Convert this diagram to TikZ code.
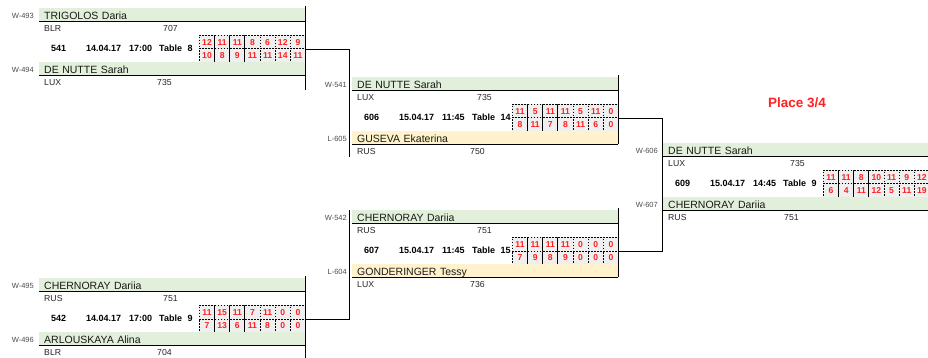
\documentclass[tikz,border=0pt]{standalone}
\usepackage{fontspec}
\setmainfont{Liberation Sans}
\usepackage{xcolor}
\usetikzlibrary{calc}
\definecolor{bargreen}{HTML}{E2EFDA}
\definecolor{baryellow}{HTML}{FFF2CC}
\definecolor{scorered}{HTML}{FF2020}
\definecolor{cellgrey}{HTML}{EFEFEF}
\tikzset{
	rule/.style={line width=0.8pt},
	bar/.style={minimum width=266pt, minimum height=13pt, text width=256pt, align=left,
			inner xsep=5pt, inner ysep=0.5pt, text height=11pt, text depth=1pt,
			font=\fontsize{10.5}{12}\selectfont, text=black!90},
	tag/.style={inner sep=0pt, font=\fontsize{7.5}{8}\selectfont, text=black!70},
	info/.style={inner sep=0pt, font=\fontsize{8.7}{9}\selectfont, text=black!85},
	mbold/.style={inner sep=0pt, font=\fontsize{9}{9}\selectfont\bfseries},
	sbox/.style={draw, line width=1pt, dash pattern=on 1.8pt off 1.2pt, fill=cellgrey,
			minimum width=106pt, minimum height=27pt, inner sep=0pt},
	cell/.style={draw, line width=0.9pt, dash pattern=on 1.8pt off 1.2pt, fill=cellgrey,
			minimum width=15.15pt, minimum height=13.5pt, inner sep=0pt,
			font=\fontsize{8.6}{8}\selectfont\bfseries, text=scorered},
	place/.style={inner sep=0pt, font=\fontsize{13.5}{14}\selectfont\bfseries, text=scorered}
}
% one player line: name, top y, bar colour, entry, player, country, rating, rating x
\newcommand{\player}[8]{%
	\node[bar, fill=#3, anchor=north west] (#1) at (0,#2) {#5};
	\draw[rule] (#1.south west) -- (#1.south east);
	\node[tag, anchor=base east] (#1e) at (-5,{#2+10.3}) {#4};
	\node[info, anchor=base west] (#1c) at (5,{#2+23.5}) {#6};
	\node[info, anchor=base west] (#1r) at (#8,{#2+23.5}) {#7};
}
% match number, date, time and table
\newcommand{\matchrow}[5]{%
	\node[mbold, anchor=base west] (#1n) at (12,43.5) {#2};
	\node[mbold, anchor=base west] (#1d) at (47,43.5) {#3};
	\node[mbold, anchor=base west] (#1h) at (90,43.5) {#4};
	\node[mbold, anchor=base west] (#1x) at (120,43.5) {Table};
	\node[mbold, anchor=base west] (#1y) at (148.5,43.5) {#5};
}
% set scores
\newcommand{\scores}[3]{%
	\node[sbox, anchor=north west] (#1) at (160,27) {};
	\foreach \s [count=\i] in {#2}
		\node[cell, anchor=north west] (#1t\i) at ({160+15.15*(\i-1)},27) {\s};
	\foreach \s [count=\i] in {#3}
		\node[cell, anchor=north west] (#1b\i) at ({160+15.15*(\i-1)},40.5) {\s};
}

\begin{document}
\begin{tikzpicture}[x=1pt, y=-1pt]
		\useasboundingbox (0,0) rectangle (928,358);

		% Match 541
		\begin{scope}[shift={(39,8)}]
			\player{p493}{0}{bargreen}{W-493}{TRIGOLOS Daria}{BLR}{707}{124}
			\matchrow{r541}{541}{14.04.17}{17:00}{8}
			\scores{s541}{12,11,11,8,6,12,9}{10,8,9,11,11,14,11}
			\player{p494}{54}{bargreen}{W-494}{DE NUTTE Sarah}{LUX}{735}{118}
			\draw[rule] (266,-2) -- (266,82);
		\end{scope}

		% Match 542
		\begin{scope}[shift={(39,278)}]
			\player{p495}{0}{bargreen}{W-495}{CHERNORAY Dariia}{RUS}{751}{124}
			\matchrow{r542}{542}{14.04.17}{17:00}{9}
			\scores{s542}{11,15,11,7,11,0,0}{7,13,6,11,8,0,0}
			\player{p496}{54}{bargreen}{W-496}{ARLOUSKAYA Alina}{BLR}{704}{118}
			\draw[rule] (266,-2) -- (266,82);
		\end{scope}

		% Match 606
		\begin{scope}[shift={(352,77)}]
			\player{p541}{0}{bargreen}{W-541}{DE NUTTE Sarah}{LUX}{735}{125}
			\matchrow{r606}{606}{15.04.17}{11:45}{14}
			\scores{s606}{11,5,11,11,5,11,0}{8,11,7,8,11,6,0}
			\player{p605}{54}{baryellow}{L-605}{GUSEVA Ekaterina}{RUS}{750}{118}
			\draw[rule] (266,-2) -- (266,67);
		\end{scope}

		% Match 607
		\begin{scope}[shift={(352,210)}]
			\player{p542}{0}{bargreen}{W-542}{CHERNORAY Dariia}{RUS}{751}{125}
			\matchrow{r607}{607}{15.04.17}{11:45}{15}
			\scores{s607}{11,11,11,11,0,0,0}{7,9,8,9,0,0,0}
			\player{p604}{54}{baryellow}{L-604}{GONDERINGER Tessy}{LUX}{736}{118}
			\draw[rule] (266,-2) -- (266,67);
		\end{scope}

		% Match 609
		\begin{scope}[shift={(663,143)}]
			\player{p606}{0}{bargreen}{W-606}{DE NUTTE Sarah}{LUX}{735}{127}
			\matchrow{r609}{609}{15.04.17}{14:45}{9}
			\scores{s609}{11,11,8,10,11,9,12}{6,4,11,12,5,11,19}
			\player{p607}{54}{bargreen}{W-607}{CHERNORAY Dariia}{RUS}{751}{121}
		\end{scope}

		\node[place] (title) at (797,103) {Place 3/4};

		% Bracket lines
		\coordinate (c606) at (349,157);
		\coordinate (c607) at (349,210);
		\coordinate (c609) at (662,0);
		\draw[rule] (s541.east) -| (c606);
		\draw[rule] (s542.east) -| (c607);
		\draw[rule] (s606.east) -| (c609 |- s607.east) -- (s607.east);
	\end{tikzpicture}
\end{document}
